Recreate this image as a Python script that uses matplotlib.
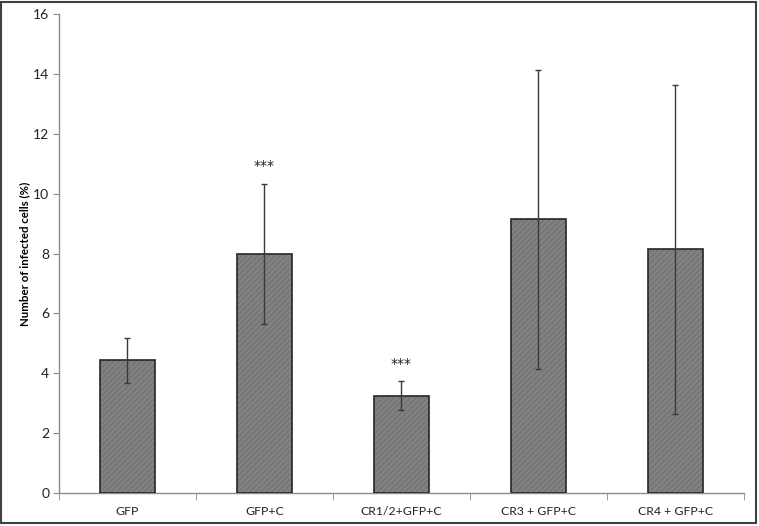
import matplotlib
matplotlib.use('Agg')
import matplotlib.pyplot as plt
import numpy as np
from matplotlib.patches import Rectangle

groups = ['GFP', 'GFP+C', 'CR1/2+GFP+C', 'CR3 + GFP+C', 'CR4 + GFP+C']
mean_pct = [4.43, 8.0, 3.25, 9.15, 8.15]
err_pct = [0.75, 2.34, 0.49, 5.0, 5.5]
stars = ['', '***', '***', '', '']

plt.rcParams['font.family'] = ['Lato', 'DejaVu Sans']
plt.rcParams['hatch.color'] = '#8e8e8e'
plt.rcParams['hatch.linewidth'] = 0.6

fig = plt.figure(figsize=(7.59, 5.26), dpi=100)
ax = fig.add_axes([0.0777, 0.0627, 0.9023, 0.9103])

x = np.arange(len(groups))
# hatched fill, then dark outline on top
ax.bar(x, mean_pct, width=0.4, color='#787878', hatch='//////', linewidth=0, zorder=2)
ax.bar(x, mean_pct, width=0.4, fill=False, edgecolor='#262626', linewidth=1.2, zorder=3)
ax.errorbar(x, mean_pct, yerr=err_pct, fmt='none', ecolor='#3a3a3a',
            elinewidth=1.0, capsize=2.2, capthick=1.0, zorder=4)

for i in range(len(groups)):
    if stars[i]:
        ax.text(x[i], mean_pct[i] + err_pct[i] + 0.35, stars[i], ha='center', va='bottom',
                fontsize=10, color='#222222', family='DejaVu Sans')

ax.set_xlim(-0.5, len(groups) - 0.5)
ax.set_ylim(0, 16)
ax.set_yticks(range(0, 17, 2))
ax.set_xticks(x)
ax.set_xticklabels(groups)
ax.set_xticks(np.arange(-0.5, len(groups), 1), minor=True)
ax.tick_params(axis='x', which='major', length=0, pad=9, labelsize=8.8, colors='#222222')
ax.tick_params(axis='x', which='minor', length=5, color='#8c8c8c', direction='out')
ax.tick_params(axis='y', length=4, color='#8c8c8c', labelsize=10, labelcolor='#222222', pad=3)

for s in ['top', 'right']:
    ax.spines[s].set_visible(False)
for s in ['left', 'bottom']:
    ax.spines[s].set_color('#8c8c8c')
    ax.spines[s].set_linewidth(1.0)

ax.set_ylabel('Number of infected cells (%)', fontsize=8.3, fontweight='bold', labelpad=2)

# outer frame
fig.patches.append(Rectangle((0.0015, 0.006), 0.995, 0.991, transform=fig.transFigure,
                             fill=False, edgecolor='#404040', linewidth=1.5))

plt.savefig('out.png', dpi=100)
